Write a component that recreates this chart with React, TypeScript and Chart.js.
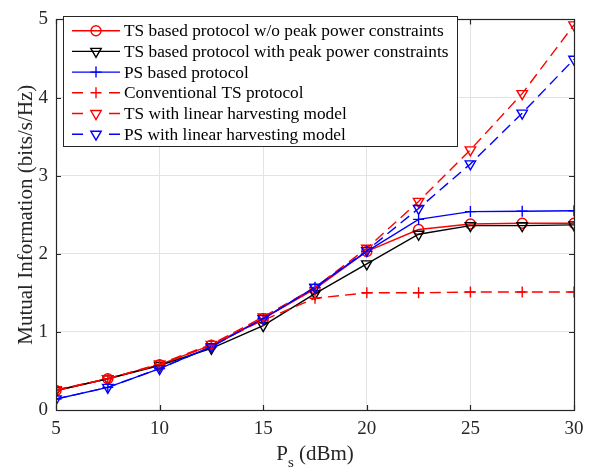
import React, { useEffect, useRef } from "react";
import { Chart, registerables } from "chart.js";

Chart.register(...registerables);

const xValues = [5, 7.5, 10, 12.5, 15, 17.5, 20, 22.5, 25, 27.5, 30];
const tsNoPeak = [0.25, 0.40, 0.58, 0.83, 1.17, 1.55, 2.03, 2.31, 2.38, 2.39, 2.39];
const tsPeak = [0.25, 0.40, 0.57, 0.79, 1.08, 1.49, 1.87, 2.25, 2.36, 2.36, 2.37];
const psBased = [0.14, 0.29, 0.53, 0.81, 1.17, 1.57, 2.03, 2.44, 2.54, 2.545, 2.55];
const conventionalTs = [0.25, 0.40, 0.58, 0.83, 1.15, 1.43, 1.50, 1.50, 1.51, 1.51, 1.51];
const tsLinear = [0.26, 0.40, 0.59, 0.84, 1.19, 1.57, 2.07, 2.67, 3.33, 4.05, 4.93];
const psLinear = [0.14, 0.29, 0.53, 0.81, 1.17, 1.57, 2.04, 2.58, 3.15, 3.80, 4.49];

const xTicks = [5, 10, 15, 20, 25, 30];
const yTicks = [0, 1, 2, 3, 4, 5];

const seriesLabels = [
  "TS based protocol w/o peak power constraints",
  "TS based protocol with peak power constraints",
  "PS based protocol",
  "Conventional TS protocol",
  "TS with linear harvesting model",
  "PS with linear harvesting model",
];

const FONT = '"Liberation Serif", "Times New Roman", serif';
const AXIS = "#262626";

type Style = { color: string; dash: number[]; marker: string };
const styles: Style[] = [
  { color: "#ff0000", dash: [], marker: "circle" },
  { color: "#000000", dash: [], marker: "triangle" },
  { color: "#0000ff", dash: [], marker: "cross" },
  { color: "#ff0000", dash: [11, 6], marker: "cross" },
  { color: "#ff0000", dash: [11, 6], marker: "triangle" },
  { color: "#0000ff", dash: [11, 6], marker: "triangle" },
];
const seriesValues = [tsNoPeak, tsPeak, psBased, conventionalTs, tsLinear, psLinear];

function drawMarker(ctx: CanvasRenderingContext2D, marker: string, x: number, y: number, color: string) {
  ctx.save();
  ctx.setLineDash([]);
  ctx.strokeStyle = color;
  ctx.lineWidth = 1.4;
  ctx.beginPath();
  if (marker === "circle") {
    ctx.arc(x, y, 5, 0, Math.PI * 2);
  } else if (marker === "triangle") {
    const r = 6;
    ctx.moveTo(x - r * 0.866, y - r * 0.5);
    ctx.lineTo(x + r * 0.866, y - r * 0.5);
    ctx.lineTo(x, y + r);
    ctx.closePath();
  } else {
    const r = 5.5;
    ctx.moveTo(x - r, y);
    ctx.lineTo(x + r, y);
    ctx.moveTo(x, y - r);
    ctx.lineTo(x, y + r);
  }
  ctx.stroke();
  ctx.restore();
}

const framePlugin = {
  id: "frame",
  afterDraw(chart: any) {
    const { ctx, chartArea } = chart;
    const { left, right, top, bottom } = chartArea;
    const xs = chart.scales.x;
    const ys = chart.scales.y;
    ctx.save();
    ctx.strokeStyle = AXIS;
    ctx.lineWidth = 1.2;
    ctx.strokeRect(Math.round(left) + 0.5, Math.round(top) + 0.5, Math.round(right - left), Math.round(bottom - top));
    ctx.beginPath();
    const tl = 5;
    for (const v of xTicks) {
      const px = Math.round(xs.getPixelForValue(v)) + 0.5;
      ctx.moveTo(px, bottom);
      ctx.lineTo(px, bottom - tl);
      ctx.moveTo(px, top);
      ctx.lineTo(px, top + tl);
    }
    for (const v of yTicks) {
      const py = Math.round(ys.getPixelForValue(v)) + 0.5;
      ctx.moveTo(left, py);
      ctx.lineTo(left + tl, py);
      ctx.moveTo(right, py);
      ctx.lineTo(right - tl, py);
    }
    ctx.stroke();

    // axis titles
    ctx.fillStyle = AXIS;
    ctx.textBaseline = "alphabetic";
    ctx.textAlign = "left";
    const cx = (left + right) / 2;
    const main = "P";
    const sub = "s";
    const rest = " (dBm)";
    ctx.font = `21px ${FONT}`;
    const wP = ctx.measureText(main).width;
    const wR = ctx.measureText(rest).width;
    ctx.font = `15px ${FONT}`;
    const wS = ctx.measureText(sub).width;
    const total = wP + wS + wR;
    let sx = cx - total / 2;
    ctx.font = `21px ${FONT}`;
    ctx.fillText(main, sx, 460);
    sx += wP;
    ctx.font = `15px ${FONT}`;
    ctx.fillText(sub, sx, 467);
    sx += wS;
    ctx.font = `21px ${FONT}`;
    ctx.fillText(rest, sx, 460);

    ctx.save();
    ctx.translate(32, (top + bottom) / 2);
    ctx.rotate(-Math.PI / 2);
    ctx.textAlign = "center";
    ctx.font = `21px ${FONT}`;
    ctx.fillText("Mutual Information (bits/s/Hz)", 0, 0);
    ctx.restore();

    // legend
    const bx = 63, by = 16, bw = 394, bh = 130;
    ctx.fillStyle = "#ffffff";
    ctx.fillRect(bx, by, bw, bh);
    ctx.strokeStyle = AXIS;
    ctx.lineWidth = 1;
    ctx.strokeRect(bx + 0.5, by + 0.5, bw, bh);
    ctx.font = `17.3px ${FONT}`;
    ctx.textBaseline = "middle";
    ctx.textAlign = "left";
    for (let i = 0; i < seriesLabels.length; i++) {
      const st = styles[i];
      const ry = 30.7 + i * 20.7;
      ctx.strokeStyle = st.color;
      ctx.lineWidth = 1.4;
      ctx.beginPath();
      if (st.dash.length) {
        ctx.moveTo(72, ry);
        ctx.lineTo(83, ry);
        ctx.moveTo(109, ry);
        ctx.lineTo(120, ry);
      } else {
        ctx.moveTo(72, ry);
        ctx.lineTo(120, ry);
      }
      ctx.stroke();
      drawMarker(ctx, st.marker, 96, ry, st.color);
      ctx.fillStyle = "#000000";
      ctx.fillText(seriesLabels[i], 124, ry + 1);
    }
    ctx.restore();
  },
};

export default function App() {
  const ref = useRef<HTMLCanvasElement | null>(null);
  useEffect(() => {
    document.body.style.margin = "0";
    const canvas = ref.current;
    if (!canvas) return;
    const datasets = seriesValues.map((vals, i) => ({
      label: seriesLabels[i],
      data: xValues.map((x, j) => ({ x, y: vals[j] })),
      borderColor: styles[i].color,
      backgroundColor: "rgba(0,0,0,0)",
      borderWidth: 1.4,
      borderDash: styles[i].dash,
      pointStyle: styles[i].marker,
      pointRadius: styles[i].marker === "circle" ? 5 : styles[i].marker === "triangle" ? 6 : 5.5,
      pointRotation: styles[i].marker === "triangle" ? 180 : 0,
      pointBorderColor: styles[i].color,
      pointBackgroundColor: "rgba(0,0,0,0)",
      pointBorderWidth: 1.4,
      tension: 0,
      fill: false,
      order: 5 - i,
    }));
    const chart = new Chart(canvas, {
      type: "line",
      data: { datasets },
      options: {
        animation: false,
        responsive: false,
        maintainAspectRatio: false,
        layout: { padding: { left: 0, right: 23, top: 9, bottom: 0 } },
        plugins: { legend: { display: false }, tooltip: { enabled: false } },
        scales: {
          x: {
            type: "linear",
            min: 5,
            max: 30,
            afterFit: (s: any) => { s.height = 64; },
            afterBuildTicks: (s: any) => { s.ticks = xTicks.map((v) => ({ value: v })); },
            ticks: { color: AXIS, font: { family: FONT, size: 19 }, padding: 8, maxRotation: 0 },
            grid: { color: "#e3e3e3", drawTicks: false },
            border: { display: false },
          },
          y: {
            type: "linear",
            min: 0,
            max: 5,
            afterFit: (s: any) => { s.width = 56; },
            afterBuildTicks: (s: any) => { s.ticks = yTicks.map((v) => ({ value: v })); },
            ticks: { color: AXIS, font: { family: FONT, size: 19 }, padding: 8 },
            grid: { color: "#e3e3e3", drawTicks: false },
            border: { display: false },
          },
        },
      },
      plugins: [framePlugin],
    });
    return () => chart.destroy();
  }, []);
  return (
    <div style={{ position: "absolute", left: 0, top: 0, width: 597, height: 474, background: "#fff" }}>
      <canvas ref={ref} width={597} height={474} />
    </div>
  );
}
